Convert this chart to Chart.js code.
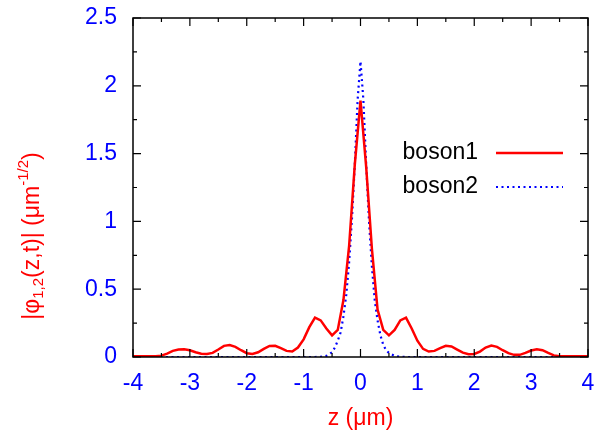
<!DOCTYPE html>
<html>
<head>
<meta charset="utf-8">
<script src="https://cdn.jsdelivr.net/npm/chart.js@4/dist/chart.umd.min.js"></script>
<style>
  html, body { margin: 0; padding: 0; background: #fff; }
  #wrap { width: 602px; height: 432px; }
</style>
</head>
<body>
<div id="wrap"><canvas id="canvas" width="602" height="432"></canvas></div>
<script>
// Dữ liệu (z tính bằng µm)
const zBoson1 = [-4, -3.6, -3.5, -3.4, -3.3, -3.2, -3.1, -3.0, -2.9, -2.8, -2.7, -2.6, -2.5, -2.4, -2.3, -2.2, -2.1, -2.0,
  -1.9, -1.8, -1.7, -1.6, -1.5, -1.4, -1.3, -1.2, -1.1, -1.0, -0.9, -0.8, -0.7, -0.6, -0.5, -0.4, -0.3, -0.2, -0.1,
  0, 0.1, 0.2, 0.3, 0.4, 0.5, 0.6, 0.7, 0.8, 0.9, 1.0, 1.1, 1.2, 1.3, 1.4, 1.5, 1.6, 1.7, 1.8, 1.9,
  2.0, 2.1, 2.2, 2.3, 2.4, 2.5, 2.6, 2.7, 2.8, 2.9, 3.0, 3.1, 3.2, 3.3, 3.4, 3.5, 3.6, 4]
const boson1 = [0.005, 0.005, 0.01, 0.025, 0.045, 0.055, 0.057, 0.05, 0.035, 0.024, 0.022, 0.03, 0.055, 0.082, 0.088, 0.075, 0.05, 0.028,
  0.022, 0.035, 0.06, 0.082, 0.083, 0.065, 0.045, 0.04, 0.07, 0.13, 0.22, 0.29, 0.27, 0.21, 0.16, 0.2, 0.42, 0.82, 1.42,
  1.89, 1.4, 0.8, 0.35, 0.2, 0.16, 0.2, 0.27, 0.29, 0.21, 0.12, 0.06, 0.04, 0.045, 0.065, 0.083, 0.078, 0.055, 0.032, 0.02,
  0.022, 0.04, 0.07, 0.085, 0.075, 0.05, 0.028, 0.016, 0.016, 0.03, 0.048, 0.057, 0.05, 0.03, 0.012, 0.006, 0.005, 0.005]

const zBoson2 = [-4, -0.8, -0.7, -0.6, -0.5, -0.45, -0.4, -0.35, -0.3, -0.25, -0.2, -0.15, -0.1, -0.05,
  0, 0.05, 0.1, 0.15, 0.2, 0.25, 0.3, 0.35, 0.4, 0.45, 0.5, 0.6, 0.7, 0.8, 4]
const boson2 = [0, 0, 0.002, 0.008, 0.035, 0.07, 0.12, 0.18, 0.3, 0.46, 0.7, 1.02, 1.42, 1.9,
  2.18, 1.9, 1.42, 1.0, 0.67, 0.42, 0.27, 0.16, 0.09, 0.05, 0.03, 0.008, 0.002, 0, 0]

const xTicks = [-4, -3, -2, -1, 0, 1, 2, 3, 4]
const yTicks = [0, 0.5, 1, 1.5, 2, 2.5]

const toPoints = (zs, vs) => zs.map((z, i) => ({ x: z, y: vs[i] }))

const FONT = 'Liberation Sans, Arial, sans-serif'
const FS = 23

// Khung, vạch chia hướng vào trong, chú thích và tiêu đề trục y
const framePlugin = {
  id: 'frame',
  afterDraw(chart) {
    const ctx = chart.ctx
    const a = chart.chartArea
    const xs = chart.scales.x
    const ys = chart.scales.y
    ctx.save()
    ctx.strokeStyle = '#000'
    ctx.lineWidth = 1.5
    ctx.strokeRect(a.left, a.top, a.right - a.left, a.bottom - a.top)

    ctx.lineWidth = 1.2
    ctx.beginPath()
    for (let v = xTicks[0]; v <= xTicks[xTicks.length - 1] + 1e-9; v += 0.5) {
      const px = xs.getPixelForValue(v)
      const len = Math.abs(v - Math.round(v)) < 1e-9 ? 8 : 4
      ctx.moveTo(px, a.bottom); ctx.lineTo(px, a.bottom - len)
      ctx.moveTo(px, a.top); ctx.lineTo(px, a.top + len)
    }
    for (let v = yTicks[0]; v <= yTicks[yTicks.length - 1] + 1e-9; v += 0.25) {
      const py = ys.getPixelForValue(v)
      const len = Math.abs(v * 2 - Math.round(v * 2)) < 1e-9 ? 8 : 4
      ctx.moveTo(a.left, py); ctx.lineTo(a.left + len, py)
      ctx.moveTo(a.right, py); ctx.lineTo(a.right - len, py)
    }
    ctx.stroke()

    // chú thích
    chart.data.datasets.forEach((ds, i) => {
      const y = 153 + i * 34
      ctx.fillStyle = '#000'
      ctx.font = FS + 'px ' + FONT
      ctx.textAlign = 'right'
      ctx.textBaseline = 'middle'
      ctx.fillText(ds.label, 478, y)
      ctx.strokeStyle = ds.borderColor
      ctx.lineWidth = ds.borderWidth
      ctx.setLineDash(ds.borderDash || [])
      ctx.beginPath()
      ctx.moveTo(496, y); ctx.lineTo(563, y)
      ctx.stroke()
      ctx.setLineDash([])
    })

    // tiêu đề trục y có chỉ số dưới / trên
    const parts = [
      { t: '|φ', s: FS, dy: 0 },
      { t: '1,2', s: 15, dy: 6 },
      { t: '(z,t)| (μm', s: FS, dy: 0 },
      { t: '-1/2', s: 15, dy: -9 },
      { t: ')', s: FS, dy: 0 },
    ]
    let total = 0
    parts.forEach(p => { ctx.font = p.s + 'px ' + FONT; p.w = ctx.measureText(p.t).width; total += p.w })
    ctx.translate(33, 236)
    ctx.rotate(-Math.PI / 2)
    ctx.fillStyle = '#ff0000'
    ctx.textAlign = 'left'
    ctx.textBaseline = 'middle'
    let x = -total / 2
    parts.forEach(p => {
      ctx.font = p.s + 'px ' + FONT
      ctx.fillText(p.t, x, p.dy)
      x += p.w
    })
    ctx.restore()
  }
}

const data = {
  datasets: [
    {
      label: 'boson1',
      data: toPoints(zBoson1, boson1),
      borderColor: '#ff0000',
      borderWidth: 2.5,
      pointRadius: 0,
      tension: 0,
    },
    {
      label: 'boson2',
      data: toPoints(zBoson2, boson2),
      borderColor: '#0000ff',
      borderWidth: 2.2,
      borderDash: [2, 3.5],
      pointRadius: 0,
      tension: 0,
    },
  ],
}

const config = {
  type: 'line',
  data: data,
  plugins: [framePlugin],
  options: {
    responsive: false,
    animation: false,
    layout: { padding: { left: 0, right: 14, top: 18, bottom: 0 } },
    plugins: { legend: { display: false }, tooltip: { enabled: false } },
    scales: {
      x: {
        type: 'linear',
        min: -4,
        max: 4,
        afterFit: s => { s.height = 75; s.paddingLeft = 0; s.paddingRight = 0 },
        afterBuildTicks: s => { s.ticks = xTicks.map(v => ({ value: v })) },
        grid: { display: false, drawTicks: false },
        border: { display: false },
        ticks: { color: '#0000ff', font: { family: FONT, size: FS }, padding: 13, maxRotation: 0, callback: v => String(v) },
        title: { display: true, text: 'z (μm)', color: '#ff0000', font: { family: FONT, size: FS }, padding: { top: 1, bottom: 0 } },
      },
      y: {
        min: 0,
        max: 2.5,
        afterFit: s => { s.width = 133; s.paddingTop = 0; s.paddingBottom = 0 },
        afterBuildTicks: s => { s.ticks = yTicks.map(v => ({ value: v })) },
        grid: { display: false, drawTicks: false },
        border: { display: false },
        ticks: { color: '#0000ff', font: { family: FONT, size: FS }, padding: 16, callback: v => String(v) },
      },
    },
  },
}

const canvas = document.getElementById('canvas')
const chart = new Chart(canvas, config)
</script>
</body>
</html>
